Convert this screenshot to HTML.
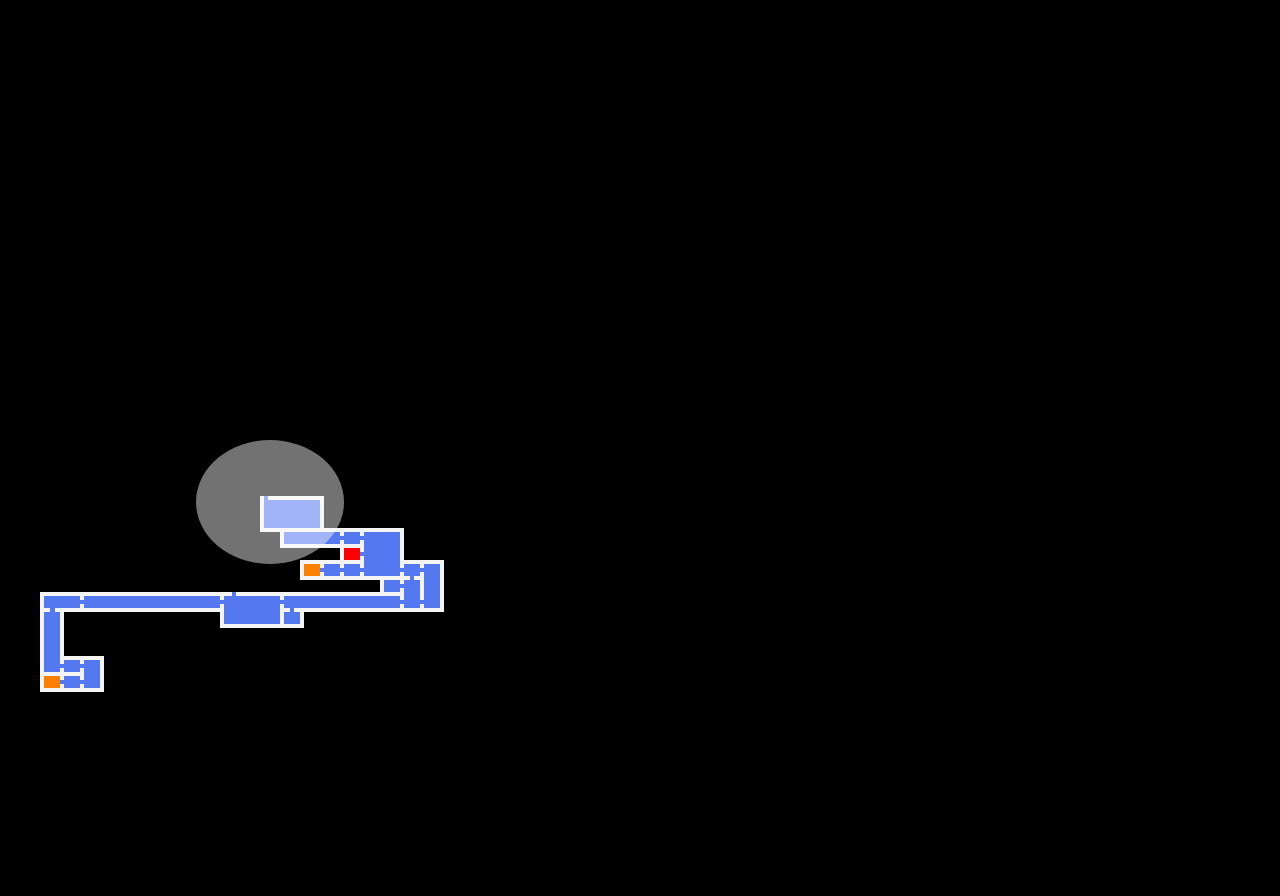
<!DOCTYPE html>
<html><head><style>
html,body{margin:0;padding:0;background:#000;width:1280px;height:896px;overflow:hidden}
svg{display:block}
</style></head><body>
<svg width="1280" height="896" viewBox="0 0 1280 896" xmlns="http://www.w3.org/2000/svg">
<rect width="1280" height="896" fill="#000"/>
<g fill="#f4f4f4">
<rect x="260" y="496" width="64" height="36"/>
<rect x="280" y="528" width="124" height="20"/>
<rect x="340" y="544" width="24" height="20"/>
<rect x="360" y="528" width="44" height="52"/>
<rect x="300" y="560" width="144" height="20"/>
<rect x="380" y="576" width="24" height="24"/>
<rect x="400" y="560" width="44" height="52"/>
<rect x="40" y="592" width="404" height="20"/>
<rect x="220" y="592" width="64" height="36"/>
<rect x="280" y="608" width="24" height="20"/>
<rect x="40" y="592" width="24" height="100"/>
<rect x="40" y="656" width="64" height="36"/>
</g>
<g fill="#5478f0">
<rect x="264" y="500" width="56" height="28"/>
<rect x="284" y="532" width="56" height="12"/>
<rect x="344" y="532" width="16" height="12"/>
<rect x="364" y="532" width="36" height="44"/>
<rect x="324" y="564" width="16" height="12"/>
<rect x="344" y="564" width="16" height="12"/>
<rect x="384" y="580" width="16" height="12"/>
<rect x="404" y="564" width="16" height="12"/>
<rect x="404" y="580" width="16" height="28"/>
<rect x="424" y="564" width="16" height="44"/>
<rect x="44" y="596" width="36" height="12"/>
<rect x="84" y="596" width="136" height="12"/>
<rect x="224" y="596" width="56" height="28"/>
<rect x="284" y="596" width="116" height="12"/>
<rect x="284" y="612" width="16" height="12"/>
<rect x="44" y="612" width="16" height="60"/>
<rect x="50" y="608" width="5" height="4"/>
<rect x="64" y="660" width="16" height="12"/>
<rect x="64" y="676" width="16" height="12"/>
<rect x="84" y="660" width="16" height="28"/>
<!-- doors -->
<rect x="80" y="600" width="4" height="4"/>
<rect x="220" y="600" width="4" height="4"/>
<rect x="280" y="600" width="4" height="4"/>
<rect x="400" y="600" width="4" height="4"/>
<rect x="420" y="568" width="4" height="4"/>
<rect x="420" y="600" width="4" height="4"/>
<rect x="410" y="576" width="4" height="4"/>
<rect x="400" y="584" width="4" height="4"/>
<rect x="340" y="536" width="4" height="4"/>
<rect x="360" y="536" width="4" height="4"/>
<rect x="360" y="568" width="4" height="4"/>
<rect x="320" y="568" width="4" height="4"/>
<rect x="340" y="568" width="4" height="4"/>
<rect x="400" y="568" width="4" height="4"/>
<rect x="360" y="552" width="4" height="4"/>
<rect x="290" y="608" width="4" height="4"/>
<rect x="80" y="664" width="4" height="4"/>
<rect x="80" y="680" width="4" height="4"/>
<rect x="60" y="680" width="4" height="4"/>
<rect x="60" y="664" width="4" height="4"/>
<rect x="232" y="592" width="4" height="4"/>
<rect x="264" y="496" width="4" height="4"/>
</g>
<rect x="344" y="548" width="16" height="12" fill="#ff0000"/>
<rect x="304" y="564" width="16" height="12" fill="#ff8000"/>
<rect x="44" y="676" width="16" height="12" fill="#ff8000"/>
<ellipse cx="270" cy="502" rx="74" ry="62" fill="#727272" style="mix-blend-mode:screen"/>
</svg>
</body></html>
